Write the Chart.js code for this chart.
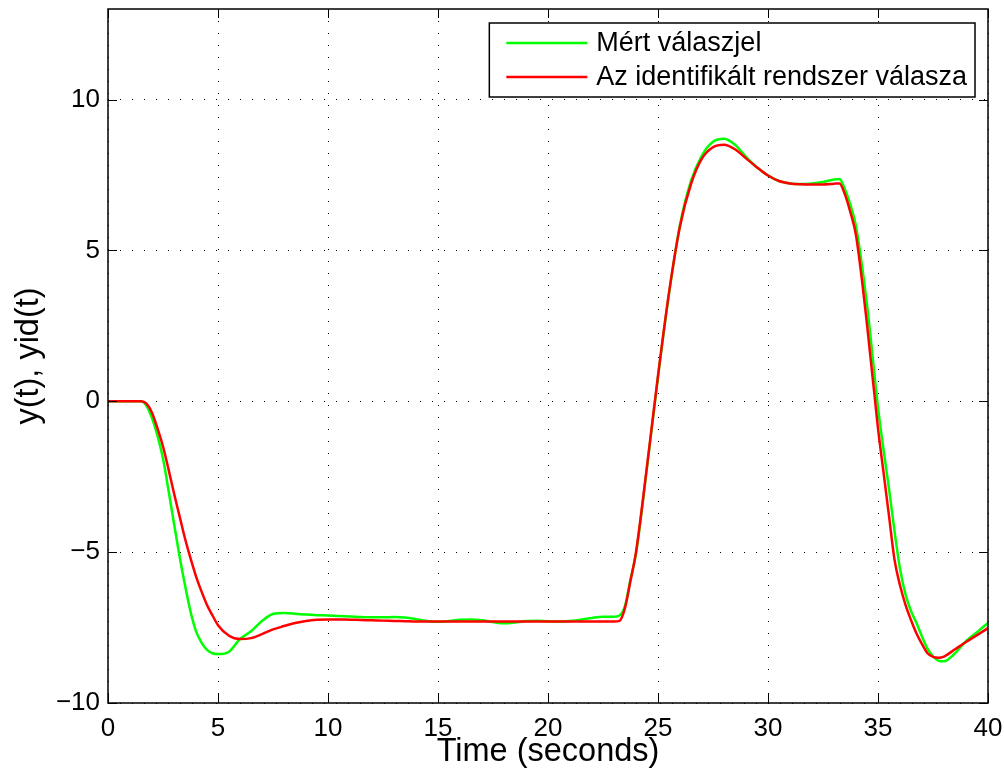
<!DOCTYPE html>
<html>
<head>
<meta charset="utf-8">
<script src="https://cdn.jsdelivr.net/npm/chart.js@4/dist/chart.umd.min.js"></script>
<style>
  body { margin: 0; background: #fff; }
  #wrap { width: 1004px; height: 778px; }
</style>
</head>
<body>
<div id="wrap"><canvas id="myChart" width="1004" height="778"></canvas></div>
<script>
// time axis (seconds), denser where the curves bend
const time = [0, 0.5, 1, 1.5, 1.75, 2, 2.25, 2.5, 2.75, 3, 3.25, 3.5, 3.75, 4, 4.25, 4.5, 4.75, 5,
  5.5, 6, 6.5, 7, 7.5, 8, 8.5, 9, 9.5, 10, 10.5, 11, 11.5, 12, 12.5, 13, 13.5, 14,
  14.5, 15, 15.5, 16, 16.5, 17, 17.5, 18, 18.5, 19, 19.5, 20, 20.5, 21, 21.5, 22, 22.5, 23,
  23.25, 23.5, 23.75, 24, 24.5, 25, 25.5, 26, 26.5, 27, 27.5, 28, 28.5, 29, 29.5, 30, 30.5, 31,
  31.5, 32, 32.5, 33, 33.25, 33.5, 33.75, 34, 34.5, 35, 35.25, 35.5, 35.75, 36, 36.25, 36.5, 36.75, 37,
  37.25, 37.5, 37.75, 38, 38.5, 39, 39.5, 40];

// measured response y(t)
const measured = [0, 0, 0, 0, -0.15, -0.56, -1.15, -1.9, -2.95, -4.05, -5.13, -6.1, -6.97, -7.62, -8.0, -8.24, -8.35, -8.38,
  -8.3, -7.88, -7.62, -7.28, -7.05, -7.02, -7.04, -7.07, -7.09, -7.1, -7.12, -7.13, -7.15, -7.16, -7.16, -7.15, -7.17, -7.22,
  -7.28, -7.31, -7.28, -7.24, -7.23, -7.26, -7.32, -7.36, -7.33, -7.28, -7.27, -7.29, -7.3, -7.28, -7.24, -7.18, -7.14, -7.14,
  -7.1, -6.78, -5.9, -5.05, -2.2, 0.8, 3.55, 5.85, 7.3, 8.15, 8.6, 8.7, 8.5, 8.1, 7.75, 7.48, 7.3, 7.22,
  7.2, 7.22, 7.27, 7.35, 7.37, 7.02, 6.5, 5.8, 3.2, -0.2, -1.6, -2.9, -4.3, -5.55, -6.4, -6.95, -7.35, -7.8,
  -8.2, -8.45, -8.6, -8.62, -8.35, -7.95, -7.65, -7.35];

// identified model response yid(t)
const identified = [0, 0, 0, 0, -0.08, -0.38, -0.9, -1.5, -2.25, -3.05, -3.8, -4.55, -5.2, -5.8, -6.3, -6.75, -7.1, -7.42,
  -7.77, -7.88, -7.85, -7.72, -7.56, -7.45, -7.35, -7.28, -7.24, -7.23, -7.23, -7.24, -7.25, -7.26, -7.27, -7.28, -7.29, -7.3,
  -7.3, -7.3, -7.3, -7.3, -7.3, -7.3, -7.3, -7.3, -7.3, -7.3, -7.3, -7.3, -7.3, -7.3, -7.3, -7.3, -7.3, -7.3,
  -7.28, -6.85, -5.95, -5.0, -2.15, 0.85, 3.6, 5.8, 7.2, 8.05, 8.42, 8.5, 8.35, 8.05, 7.75, 7.48, 7.3, 7.22,
  7.19, 7.18, 7.18, 7.21, 7.22, 6.85, 6.25, 5.5, 2.55, -0.9, -2.35, -3.8, -5.25, -6.1, -6.75, -7.25, -7.7, -8.05,
  -8.35, -8.47, -8.5, -8.46, -8.22, -7.98, -7.75, -7.52];

const xTicks = [0, 5, 10, 15, 20, 25, 30, 35, 40];
const yTicks = [-10, -5, 0, 5, 10];

const FONT = "'Liberation Sans', Arial, Helvetica, sans-serif";

const toPoints = (vals) => time.map((t, i) => ({ x: t, y: vals[i] }));

// matlab style box, inward ticks and boxed legend
const matlabAxes = {
  id: "matlabAxes",
  afterDraw(chart) {
    const { ctx, chartArea: a, scales } = chart;
    ctx.save();
    ctx.strokeStyle = "#000";
    ctx.lineWidth = 1;
    ctx.beginPath();
    xTicks.forEach((v) => {
      const px = Math.round(scales.x.getPixelForValue(v)) + 0.5;
      ctx.moveTo(px, a.bottom); ctx.lineTo(px, a.bottom - 9);
      ctx.moveTo(px, a.top); ctx.lineTo(px, a.top + 9);
    });
    yTicks.forEach((v) => {
      const py = Math.round(scales.y.getPixelForValue(v)) + 0.5;
      ctx.moveTo(a.left, py); ctx.lineTo(a.left + 9, py);
      ctx.moveTo(a.right, py); ctx.lineTo(a.right - 9, py);
    });
    ctx.stroke();
    ctx.lineWidth = 1.5;
    ctx.strokeRect(a.left, a.top, a.right - a.left, a.bottom - a.top);

    // legend
    ctx.font = "27px " + FONT;
    const labels = chart.data.datasets.map((d) => d.label);
    const textW = Math.max(...labels.map((l) => ctx.measureText(l).width));
    const w = 17 + 81 + 9 + textW + 8;
    const h = 74;
    const bx = a.right - 13 - w;
    const by = a.top + 14;
    ctx.fillStyle = "#fff";
    ctx.fillRect(bx, by, w, h);
    ctx.lineWidth = 1.5;
    ctx.strokeRect(bx, by, w, h);
    chart.data.datasets.forEach((d, i) => {
      const cy = by + 20 + i * 34;
      ctx.strokeStyle = d.borderColor;
      ctx.lineWidth = 2.5;
      ctx.beginPath();
      ctx.moveTo(bx + 17, cy);
      ctx.lineTo(bx + 98, cy);
      ctx.stroke();
      ctx.fillStyle = "#000";
      ctx.textBaseline = "middle";
      ctx.textAlign = "left";
      ctx.fillText(d.label, bx + 107, cy + 1);
    });
    ctx.restore();
  },
};

const ctx = document.getElementById("myChart").getContext("2d");
new Chart(ctx, {
  type: "line",
  data: {
    datasets: [
      {
        label: "Mért válaszjel",
        data: toPoints(measured),
        borderColor: "#00ff00",
        borderWidth: 2.5,
        pointRadius: 0,
        cubicInterpolationMode: "monotone",
        order: 1,
      },
      {
        label: "Az identifikált rendszer válasza",
        data: toPoints(identified),
        borderColor: "#ff0000",
        borderWidth: 2.5,
        pointRadius: 0,
        cubicInterpolationMode: "monotone",
        order: 0,
      },
    ],
  },
  options: {
    responsive: false,
    animation: false,
    layout: { padding: { left: 0, top: 9, right: 16, bottom: 0 } },
    plugins: { legend: { display: false }, tooltip: { enabled: false } },
    scales: {
      x: {
        type: "linear",
        min: 0,
        max: 40,
        afterBuildTicks: (axis) => { axis.ticks = xTicks.map((v) => ({ value: v })); },
        afterFit: (axis) => {
          axis.height = 75;
          axis.paddingLeft = 0;
          axis.paddingRight = 0;
        },
        grid: { color: "#000", lineWidth: 1, drawTicks: false },
        border: { display: false, dash: [1, 11] },
        ticks: { color: "#000", padding: 10, maxRotation: 0, font: { size: 26, family: FONT } },
        title: {
          display: true,
          text: "Time (seconds)",
          color: "#000",
          font: { size: 32.5, family: FONT },
          padding: { top: 0, bottom: 6 },
        },
      },
      y: {
        min: -10,
        max: 13,
        afterBuildTicks: (axis) => { axis.ticks = yTicks.map((v) => ({ value: v })); },
        afterFit: (axis) => {
          axis.width = 108;
          axis.paddingTop = 0;
          axis.paddingBottom = 0;
        },
        grid: { color: "#000", lineWidth: 1, drawTicks: false },
        border: { display: false, dash: [1, 11] },
        ticks: {
          color: "#000",
          padding: 8,
          font: { size: 26, family: FONT },
          callback: (v) => String(v).replace("-", "\u2212"),
        },
        title: {
          display: true,
          text: "y(t), yid(t)",
          color: "#000",
          font: { size: 32.5, family: FONT },
          padding: { top: 10, bottom: 0 },
        },
      },
    },
  },
  plugins: [matlabAxes],
});
</script>
</body>
</html>
